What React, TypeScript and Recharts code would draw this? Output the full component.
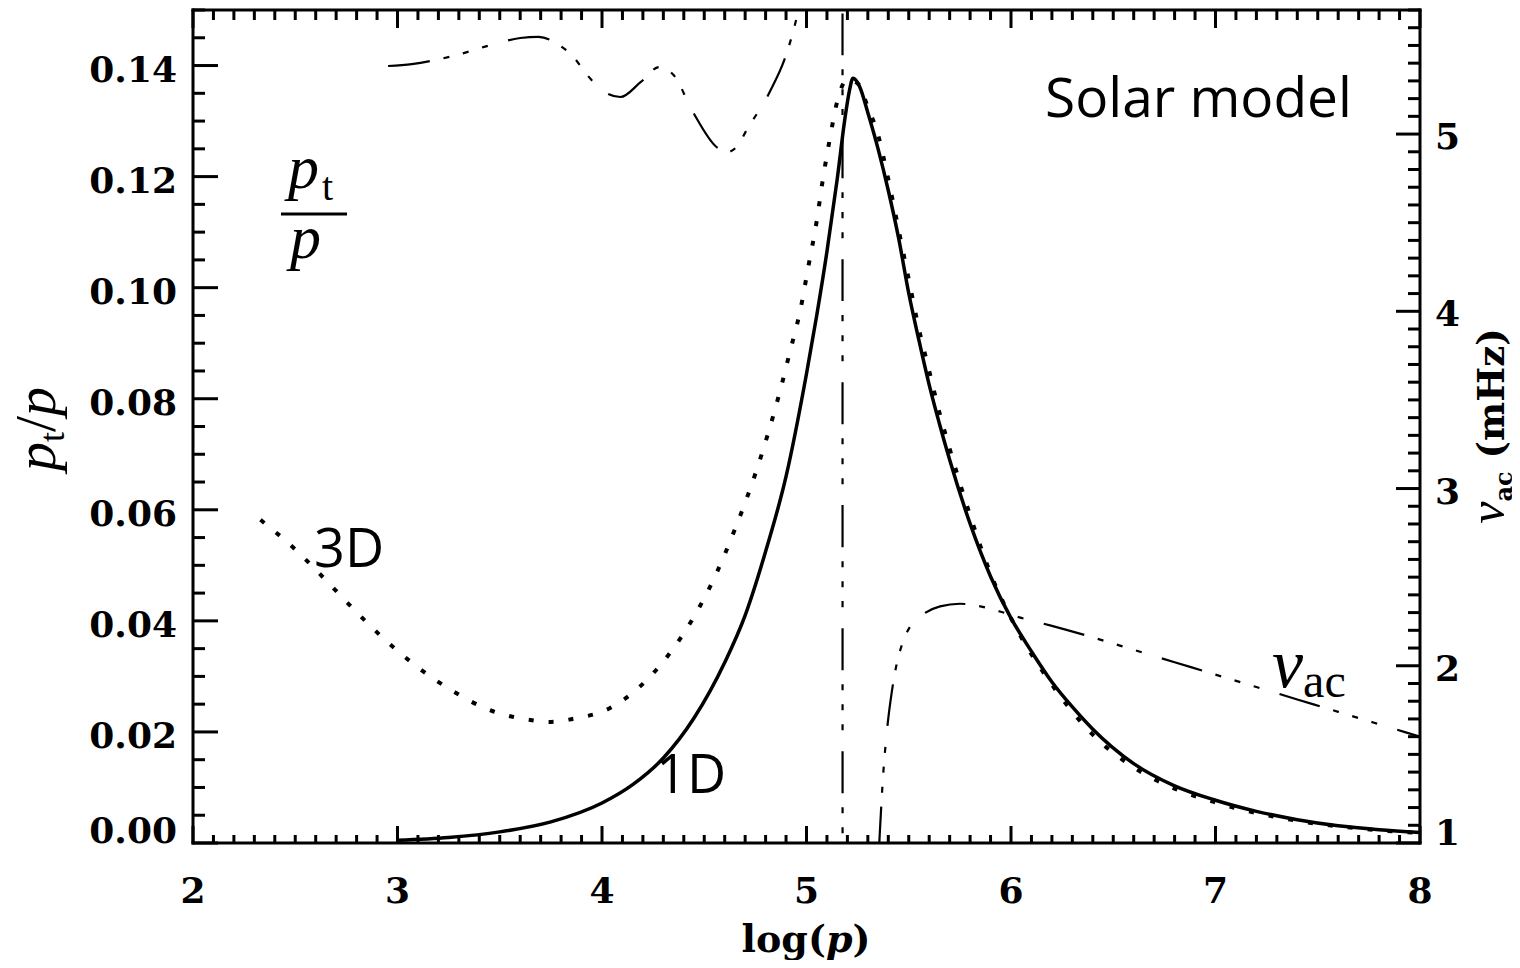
import React from "react";
import { LineChart, Line, XAxis, YAxis } from "recharts";

// 1D model: turbulent pressure ratio vs log(p)
const oneDLogP = [3.0, 3.25, 3.5, 3.75, 4.0, 4.15, 4.3, 4.45, 4.6, 4.7, 4.8, 4.9, 5.0, 5.05, 5.1, 5.15, 5.19, 5.21, 5.227, 5.26, 5.3, 5.35, 5.4, 5.45, 5.5, 5.55, 5.6, 5.65, 5.7, 5.8, 5.9, 6.0, 6.1, 6.2, 6.3, 6.4, 6.6, 6.8, 7.0, 7.2, 7.4, 7.6, 7.8, 8.0];
const oneDRatio = [0.0005, 0.001, 0.002, 0.0038, 0.0072, 0.0105, 0.0153, 0.0225, 0.0325, 0.041, 0.0525, 0.066, 0.0845, 0.095, 0.1065, 0.1195, 0.131, 0.1355, 0.1377, 0.1362, 0.1315, 0.125, 0.1175, 0.109, 0.099, 0.0905, 0.0825, 0.0755, 0.069, 0.0575, 0.048, 0.0405, 0.0345, 0.029, 0.0245, 0.0205, 0.0143, 0.0103, 0.0077, 0.0057, 0.0042, 0.0031, 0.0024, 0.0019];

// 3D simulation
const threeDLogP = [2.33, 2.49, 2.64, 2.78, 2.93, 3.09, 3.26, 3.44, 3.64, 3.75, 3.85, 4.05, 4.22, 4.35, 4.46, 4.56, 4.65, 4.75, 4.81, 4.87, 4.92, 4.97, 5.01, 5.05, 5.08, 5.115, 5.15, 5.2, 5.25, 5.3, 5.35, 5.4, 5.45, 5.5, 5.55, 5.6, 5.65, 5.7, 5.8, 5.9, 6.0, 6.2, 6.4, 6.6, 6.8, 7.0, 7.2, 7.4, 7.6, 7.8, 8.0];
const threeDRatio = [0.0582, 0.0532, 0.0477, 0.0423, 0.0369, 0.0319, 0.0276, 0.0241, 0.0222, 0.0218, 0.0223, 0.0245, 0.0294, 0.0351, 0.0414, 0.0486, 0.0565, 0.0665, 0.0735, 0.0813, 0.0886, 0.096, 0.104, 0.112, 0.1195, 0.127, 0.1335, 0.1375, 0.1368, 0.1325, 0.1275, 0.1195, 0.1105, 0.1015, 0.0925, 0.085, 0.0775, 0.071, 0.059, 0.0485, 0.0405, 0.0285, 0.0195, 0.0136, 0.0098, 0.0073, 0.0054, 0.004, 0.003, 0.0023, 0.0018];

// acoustic cut-off frequency (right axis, mHz)
const nuAcLogP = [2.954, 3.07, 3.27, 3.45, 3.6, 3.69, 3.78, 3.86, 3.93, 4.005, 4.09, 4.19, 4.28, 4.35, 4.445, 4.56, 4.61, 4.66, 4.71, 4.82, 4.905, 4.958, 5.0, 5.05, 5.1, 5.15, 5.175, 5.177, 5.3, 5.34, 5.36, 5.374, 5.394, 5.418, 5.443, 5.47, 5.506, 5.57, 5.653, 5.75, 5.85, 5.95, 6.05, 6.2, 6.4, 6.6, 6.8, 7.0, 7.2, 7.4, 7.6, 7.8, 8.0];
const nuAcMHz = [5.384, 5.395, 5.44, 5.5, 5.542, 5.548, 5.51, 5.435, 5.33, 5.243, 5.209, 5.294, 5.378, 5.333, 5.124, 4.927, 4.898, 4.93, 5.028, 5.237, 5.463, 5.689, 5.95, 6.4, 7.2, 9, 20, -5, -1, 0.6, 1.09, 1.37, 1.64, 1.86, 2.02, 2.13, 2.22, 2.29, 2.335, 2.35, 2.335, 2.305, 2.27, 2.225, 2.16, 2.09, 2.02, 1.95, 1.88, 1.81, 1.74, 1.67, 1.6];

const xMajorTicks = [2, 3, 4, 5, 6, 7, 8];
const leftMajorTicks = [0, 0.02, 0.04, 0.06, 0.08, 0.1, 0.12, 0.14];
const rightMajorTicks = [1, 2, 3, 4, 5];

const steps = (start: number, step: number, count: number, digits: number) =>
  Array.from({ length: count }, (_, i) => +(start + i * step).toFixed(digits));

const xTicks = steps(2, 0.1, 61, 1);
const leftTicks = steps(0, 0.005, 31, 3);
const rightTicks = steps(1, 0.1, 48, 1);

const isMajor = (v: number, majors: number[]) => majors.some((m) => Math.abs(m - v) < 1e-6);
const pairs = (xs: number[], ys: number[]) => xs.map((x, i) => ({ x, y: ys[i] }));

const oneDData = pairs(oneDLogP, oneDRatio);
const threeDData = pairs(threeDLogP, threeDRatio);
const nuAcData = pairs(nuAcLogP, nuAcMHz);

const TICK_TEXT: React.CSSProperties = {
  fontFamily: '"DejaVu Serif", serif',
  fontWeight: 700,
  fontSize: 36,
  fill: "#000",
};
const MATH = '"Liberation Serif", serif';
const SANS = '"Open Sans", sans-serif';

function BottomTick({ x, y, payload }: any) {
  const major = isMajor(payload.value, xMajorTicks);
  return (
    <g>
      <line x1={x} x2={x} y1={y} y2={y - (major ? 17 : 8)} stroke="#000" strokeWidth={3} />
      {major && (
        <text x={x} y={y + 60} textAnchor="middle" style={TICK_TEXT}>
          {payload.value}
        </text>
      )}
    </g>
  );
}

function TopTick({ x, y, payload }: any) {
  const major = isMajor(payload.value, xMajorTicks);
  return <line x1={x} x2={x} y1={y} y2={y + (major ? 18 : 10)} stroke="#000" strokeWidth={3} />;
}

function LeftTick({ x, y, payload }: any) {
  const v = payload.value;
  const major = isMajor(v, leftMajorTicks);
  return (
    <g>
      <line x1={x} x2={x + (major ? 25 : 12)} y1={y} y2={y} stroke="#000" strokeWidth={3} />
      {major && (
        <text x={x - 16} y={y + (v === 0 ? 0 : 16)} textAnchor="end" style={TICK_TEXT}>
          {v.toFixed(2)}
        </text>
      )}
    </g>
  );
}

function RightTick({ x, y, payload }: any) {
  const v = payload.value;
  const major = isMajor(v, rightMajorTicks);
  return (
    <g>
      <line x1={x} x2={x - (major ? 24 : 12)} y1={y} y2={y} stroke="#000" strokeWidth={3} />
      {major && (
        <text x={x + 15} y={y + (v === 1 ? 2 : 15)} textAnchor="start" style={TICK_TEXT}>
          {v}
        </text>
      )}
    </g>
  );
}

const AXIS_LINE = { stroke: "#000", strokeWidth: 3, strokeLinecap: "square" as const };

export default function App() {
  return (
    <div style={{ position: "relative", width: 1504, height: 952, background: "#fff" }}>
      <LineChart width={1504} height={952} margin={{ top: 0, right: 32, bottom: 57, left: 85 }}>
        <XAxis
          xAxisId="bottom"
          dataKey="x"
          type="number"
          domain={[2, 8]}
          allowDataOverflow
          ticks={xTicks}
          interval={0}
          tickSize={0}
          tickMargin={0}
          tickLine={false}
          tick={<BottomTick />}
          axisLine={AXIS_LINE}
          height={60}
        />
        <XAxis
          xAxisId="top"
          orientation="top"
          dataKey="x"
          type="number"
          domain={[2, 8]}
          allowDataOverflow
          ticks={xTicks}
          interval={0}
          tickSize={0}
          tickMargin={0}
          tickLine={false}
          tick={<TopTick />}
          axisLine={AXIS_LINE}
          height={2}
        />
        <YAxis
          yAxisId="left"
          type="number"
          domain={[0, 0.15]}
          allowDataOverflow
          ticks={leftTicks}
          interval={0}
          tickSize={0}
          tickMargin={0}
          tickLine={false}
          tick={<LeftTick />}
          axisLine={AXIS_LINE}
          width={100}
        />
        <YAxis
          yAxisId="right"
          orientation="right"
          type="number"
          domain={[1, 5.7]}
          allowDataOverflow
          ticks={rightTicks}
          interval={0}
          tickSize={0}
          tickMargin={0}
          tickLine={false}
          tick={<RightTick />}
          axisLine={AXIS_LINE}
          width={60}
        />
        <Line
          xAxisId="bottom"
          yAxisId="right"
          data={nuAcData}
          dataKey="y"
          type="monotone"
          stroke="#000"
          strokeWidth={2.2}
          strokeDasharray="42 14 6 14 6 14 6 21"
          dot={false}
          activeDot={false}
          isAnimationActive={false}
        />
        <Line
          xAxisId="bottom"
          yAxisId="left"
          data={threeDData}
          dataKey="y"
          type="monotone"
          stroke="#000"
          strokeWidth={4}
          strokeDasharray="5 15"
          dot={false}
          activeDot={false}
          isAnimationActive={false}
        />
        <Line
          xAxisId="bottom"
          yAxisId="left"
          data={oneDData}
          dataKey="y"
          type="monotone"
          stroke="#000"
          strokeWidth={3.5}
          dot={false}
          activeDot={false}
          isAnimationActive={false}
        />
      </LineChart>

      <svg
        width={1504}
        height={952}
        style={{ position: "absolute", left: 0, top: 0, pointerEvents: "none" }}
      >
        {/* axis titles */}
        <text x={798} y={944} textAnchor="middle" style={{ ...TICK_TEXT, fontSize: 38 }}>
          log(<tspan fontStyle="italic">p</tspan>)
        </text>
        <g transform="translate(47 421) rotate(-90)">
          <text x={0} y={0} textAnchor="middle" style={{ fontFamily: MATH, fontSize: 58, fill: "#000" }}>
            <tspan fontStyle="italic">p</tspan>
            <tspan fontSize={36} dy={9}>t</tspan>
            <tspan dy={-9}>/</tspan>
            <tspan fontStyle="italic">p</tspan>
          </text>
        </g>
        <g transform="translate(1496 418) rotate(-90)">
          <text x={0} y={0} textAnchor="middle" style={{ ...TICK_TEXT, fontSize: 37 }}>
            <tspan fontFamily={MATH} fontStyle="italic" fontWeight={400} fontSize={50}>ν</tspan>
            <tspan fontSize={24} dy={8}>ac</tspan>
            <tspan dy={-8}> (mHz)</tspan>
          </text>
        </g>

        {/* annotations */}
        <text x={1037} y={109} style={{ fontFamily: SANS, fontSize: 55, fill: "#000" }}>
          Solar model
        </text>
        <text x={306} y={559} style={{ fontFamily: SANS, fontSize: 54, fill: "#000" }}>
          3D
        </text>
        <text x={648} y={785} style={{ fontFamily: SANS, fontSize: 54, fill: "#000" }}>
          1D
        </text>

        <text x={280} y={180} style={{ fontFamily: MATH, fontSize: 62, fill: "#000" }}>
          <tspan fontStyle="italic">p</tspan>
          <tspan fontSize={40} dx={3} dy={12}>t</tspan>
        </text>
        <line x1={273} x2={339} y1={206} y2={206} stroke="#000" strokeWidth={3} />
        <text x={282} y={250} style={{ fontFamily: MATH, fontSize: 62, fontStyle: "italic", fill: "#000" }}>
          p
        </text>

        <text x={1264} y={679} style={{ fontFamily: MATH, fontSize: 70, fill: "#000" }}>
          <tspan fontStyle="italic">ν</tspan>
          <tspan fontSize={48} dy={10}>ac</tspan>
        </text>
      </svg>
    </div>
  );
}
